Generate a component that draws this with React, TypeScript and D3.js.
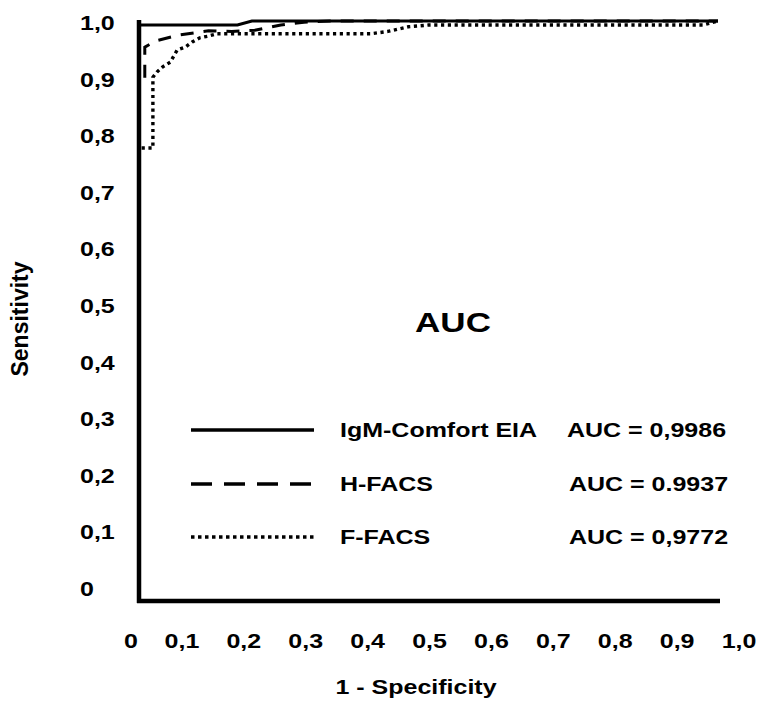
import * as d3 from "d3";

// tick values and their printed labels (decimal comma as in the original)
const tickValues = [0, 0.1, 0.2, 0.3, 0.4, 0.5, 0.6, 0.7, 0.8, 0.9, 1.0];
const tickLabels = ["0", "0,1", "0,2", "0,3", "0,4", "0,5", "0,6", "0,7", "0,8", "0,9", "1,0"];

// ROC curves (x = 1 - specificity, y = sensitivity)
const igmX = [0, 0, 0.17, 0.195, 1.0];
const igmY = [0, 0.993, 0.993, 1.0, 1.0];

const hfacsX = [0, 0, 0.01, 0.01, 0.03, 0.07, 0.12, 0.16, 0.2, 0.245, 0.285, 0.33, 1.0];
const hfacsY = [0, 0.893, 0.893, 0.955, 0.966, 0.976, 0.983, 0.982, 0.984, 0.993, 0.998, 1.0, 1.0];

const ffacsX = [0, 0, 0.024, 0.024, 0.031, 0.041, 0.054, 0.066, 0.08, 0.092, 0.105, 0.12, 0.135, 0.145, 0.4, 0.43, 0.465, 0.5, 0.974, 1.0];
const ffacsY = [0, 0.781, 0.781, 0.903, 0.912, 0.921, 0.929, 0.95, 0.955, 0.964, 0.971, 0.974, 0.978, 0.978, 0.978, 0.982, 0.99, 0.993, 0.993, 1.0];

const legendNames = ["IgM-Comfort EIA", "H-FACS", "F-FACS"];
const legendAuc = ["AUC = 0,9986", "AUC = 0.9937", "AUC = 0,9772"];

const FONT = "'Liberation Sans', Arial, sans-serif";
const SX = 1.25; // the source figure is stretched sideways

export default function App() {
  const width = 759;
  const height = 701;

  const x = d3.scaleLinear().domain([0, 1]).range([139, 718]);
  const y = d3.scaleLinear().domain([0, 1]).range([601, 21]);

  // label positions in the source do not sit on the data scale
  const xLab = d3.scaleLinear().domain([0, 1]).range([120, 739]);
  const yLab = d3.scaleLinear().domain([0, 1]).range([589, 23]);

  const line = d3
    .line<[number, number]>()
    .x((d) => x(d[0]))
    .y((d) => y(d[1]));

  const zip = (xs: number[], ys: number[]) =>
    xs.map((v, i) => [v, ys[i]] as [number, number]);

  const series = [
    { pts: zip(ffacsX, ffacsY), dash: "3.2,3.6", w: 3.4 },
    { pts: zip(hfacsX, hfacsY), dash: "13,10", w: 3 },
    { pts: zip(igmX, igmY), dash: null, w: 3 },
  ];

  const legendStyles = [
    { dash: null, w: 3.5 },
    { dash: "21,12", w: 3.5 },
    { dash: "3.5,3.5", w: 3.5 },
  ];
  const legendRows = [430, 484, 537];

  const stretched = (
    tx: number,
    ty: number,
    txt: string,
    size: number,
    anchor: string,
    key?: string
  ) => (
    <g key={key} transform={`translate(${tx},${ty}) scale(${SX},1)`}>
      <text
        textAnchor={anchor}
        fontFamily={FONT}
        fontWeight="bold"
        fontSize={size}
        fill="#000"
      >
        {txt}
      </text>
    </g>
  );

  return (
    <div style={{ position: "absolute", left: 0, top: 0 }}>
      <svg width={width} height={height} style={{ display: "block", background: "#fff" }}>
        <rect width={width} height={height} fill="#fff" />

        {/* curves */}
        {series.map((s, i) => (
          <path
            key={i}
            d={line(s.pts) || ""}
            fill="none"
            stroke="#000"
            strokeWidth={s.w}
            strokeDasharray={s.dash || undefined}
            strokeLinejoin="miter"
          />
        ))}

        {/* axes */}
        <line x1={x(0)} x2={x(0)} y1={y(1) - 1} y2={y(0) + 2} stroke="#000" strokeWidth={4.5} />
        <line x1={x(0) - 2} x2={720} y1={y(0)} y2={y(0)} stroke="#000" strokeWidth={4.5} />

        {/* tick labels */}
        {tickValues.map((v, i) =>
          stretched(xLab(v) + (v === 0 ? 11 : 0), 648, tickLabels[i], 20, "middle", "x" + i)
        )}
        {tickValues.map((v, i) =>
          stretched(80, yLab(v) + 7, tickLabels[i], 20, "start", "y" + i)
        )}

        {/* axis titles */}
        {stretched(416, 694, "1 - Specificity", 20, "middle")}
        <text
          transform="translate(28,319) rotate(-90)"
          textAnchor="middle"
          fontFamily={FONT}
          fontWeight="bold"
          fontSize={23}
        >
          Sensitivity
        </text>

        {/* inner title */}
        {stretched(453, 332, "AUC", 28, "middle")}

        {/* legend */}
        {legendRows.map((ry, i) => (
          <g key={"lg" + i}>
            <line
              x1={191}
              x2={314}
              y1={ry}
              y2={ry}
              stroke="#000"
              strokeWidth={legendStyles[i].w}
              strokeDasharray={legendStyles[i].dash || undefined}
            />
            {stretched(340, ry + 7, legendNames[i], 20, "start")}
            {stretched(i === 0 ? 567 : 569, ry + 7, legendAuc[i], 20, "start")}
          </g>
        ))}
      </svg>
    </div>
  );
}
